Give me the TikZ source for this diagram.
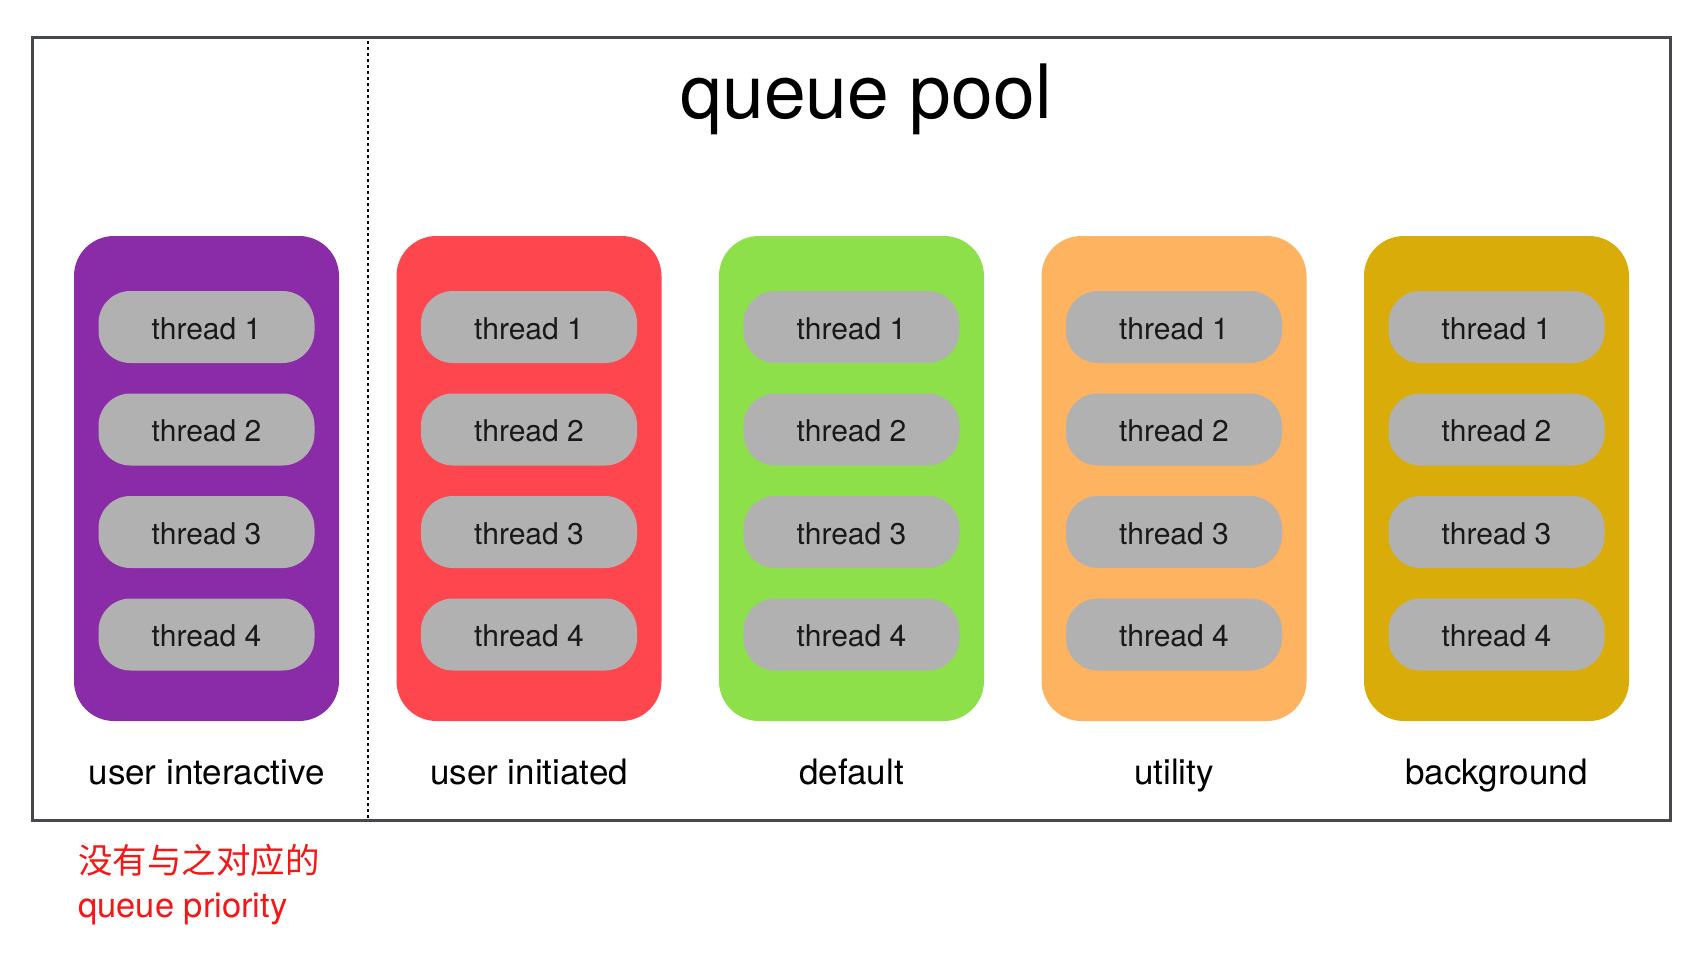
\documentclass[tikz,border=0pt]{standalone}
\usepackage{fontspec}
\setmainfont{TeX Gyre Heros}
\newfontfamily\cjk{Noto Sans CJK SC}
\definecolor{framegray}{RGB}{69,73,78}
\definecolor{cpurple}{RGB}{138,43,168}
\definecolor{cred}{RGB}{254,70,78}
\definecolor{cgreen}{RGB}{141,224,74}
\definecolor{corange}{RGB}{254,179,96}
\definecolor{cyellow}{RGB}{217,172,10}
\definecolor{pillgray}{RGB}{177,177,177}
\definecolor{notered}{RGB}{245,22,22}
\definecolor{txt}{RGB}{25,25,25}
\begin{document}
\begin{tikzpicture}[x=1pt,y=-1pt,
  colbox/.style={rectangle, rounded corners=40pt, minimum width=265pt, minimum height=485pt, inner sep=0pt, draw=none},
  pill/.style={rectangle, rounded corners=32pt, fill=pillgray, minimum width=216pt, minimum height=72pt, inner sep=0pt, draw=none},
  pilltext/.style={anchor=base, inner sep=0pt, text=txt, font=\fontsize{30}{34}\selectfont},
  qlabel/.style={anchor=base, inner sep=0pt, font=\fontsize{35}{42}\selectfont},
  note/.style={anchor=base west, inner sep=0pt, text=notered, font=\fontsize{34.5}{40}\selectfont}]
\useasboundingbox (0,0) rectangle (1708,954);
\fill[white] (0,0) rectangle (1708,954);
% frame
\draw[framegray, line width=3pt] (32,37.5) rectangle (1670,820.5);
% divider
\coordinate (dtop) at (368,41);
\coordinate (dbot) at (368,819);
\draw[black, line width=2.2pt, dash pattern=on 3pt off 3pt] (dtop) -- (dbot);
% title
\node[anchor=base, inner sep=0pt, font=\fontsize{75}{90}\selectfont] (title) at (866,118) {queue pool};
% columns
\foreach \i/\cx/\c/\lab in {1/206.5/cpurple/user interactive, 2/529/cred/user initiated, 3/851.5/cgreen/default, 4/1174/corange/utility, 5/1496.5/cyellow/background}{
  \node[colbox, fill=\c] (col\i) at (\cx,478.5) {};
  \foreach \j/\ty in {1/327, 2/429.5, 3/532, 4/634.5}{
    \node[pill] (t\i\j) at (\cx,\ty) {};
    \node[pilltext] (tt\i\j) at ([yshift=-12pt]t\i\j.center) {thread \j};
  }
  \node[qlabel] (lab\i) at (\cx,784) {\lab};
}
% note
\node[note] (note1) at (78,873) {\cjk 没有与之对应的};
\node[note] (note2) at (78,917) {queue priority};
\end{tikzpicture}
\end{document}
